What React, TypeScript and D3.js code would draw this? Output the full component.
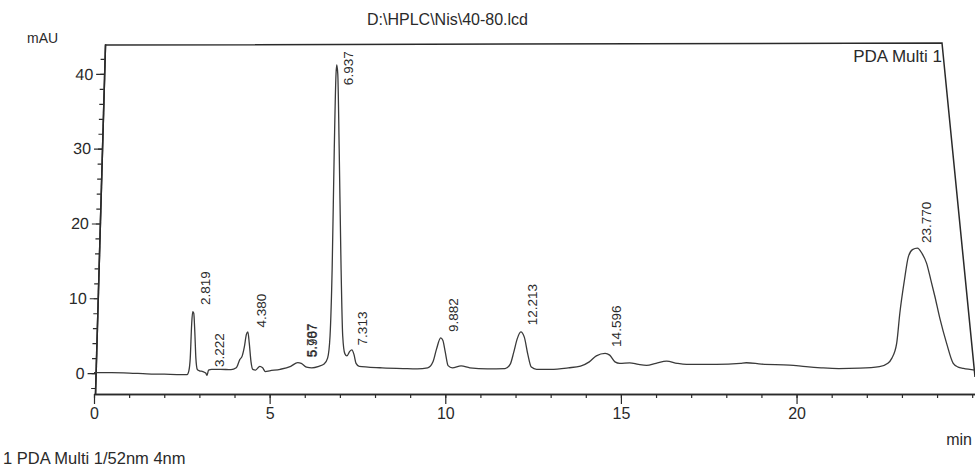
import { useEffect, useRef } from 'react'
import * as d3 from 'd3'

const W = 975
const H = 467
const FONT = '"Liberation Sans", Arial, sans-serif'

// trace (minutes / mAU)
const TIME = [
  0, 0.5, 1.0, 1.5, 2.0, 2.5, 2.65,
  2.70, 2.74, 2.78, 2.81, 2.84, 2.87, 2.90, 2.94, 3.0, 3.1, 3.18, 3.22, 3.26, 3.35, 3.6, 3.9,
  4.05, 4.15, 4.22, 4.28, 4.34, 4.38, 4.42, 4.47, 4.52, 4.6, 4.72, 4.8, 4.88, 5.0, 5.3, 5.6, 5.8, 5.9, 6.05, 6.2, 6.4, 6.55,
  6.65, 6.72, 6.78, 6.84, 6.89, 6.91, 6.94, 6.98, 7.03, 7.08, 7.14, 7.2, 7.28, 7.34, 7.4, 7.46, 7.55, 7.8, 8.2, 8.8, 9.2,
  9.5, 9.65, 9.75, 9.87, 9.93, 10.0, 10.08, 10.2, 10.45, 10.7, 11.2, 11.7,
  11.85, 11.95, 12.05, 12.15, 12.25, 12.35, 12.45, 12.6, 13.0, 13.5, 13.85,
  14.1, 14.3, 14.55, 14.68, 14.83, 14.97, 15.25, 15.5, 15.73, 16.0, 16.3, 16.6, 16.87, 17.72, 18.4, 18.57,
  19.0, 19.8, 20.27, 20.7, 21.2, 21.8, 22.36, 22.6, 22.71, 22.85, 22.94, 23.07, 23.18, 23.3, 23.44, 23.57, 23.70,
  23.82, 23.94, 24.08, 24.27, 24.46, 24.6, 24.75, 25.08,
]
const MAU = [
  0.05, 0.05, 0.0, -0.1, -0.15, -0.2, -0.2,
  0.3, 2.0, 6.5, 8.2, 8.0, 5.5, 2.0, 0.5, 0.3, 0.2, 0.0, -0.3, 0.4, 0.5, 0.5, 0.45,
  0.7, 1.8, 2.3, 3.5, 5.2, 5.5, 4.0, 1.5, 0.5, 0.4, 0.9, 0.7, 0.2, 0.3, 0.5, 0.9, 1.4, 1.3, 0.8, 0.7, 0.9, 1.2,
  2.0, 5.0, 14.0, 30.0, 40.0, 41.2, 40.0, 30.0, 15.0, 5.0, 2.6, 2.3, 2.9, 3.1, 2.5, 1.3, 0.9, 0.8, 0.7, 0.6, 0.55,
  0.7, 1.5, 3.2, 4.7, 4.4, 2.8, 1.0, 0.7, 0.95, 0.7, 0.55, 0.6,
  1.2, 2.8, 4.6, 5.5, 4.8, 2.5, 0.8, 0.5, 0.5, 0.7, 0.94,
  1.5, 2.3, 2.63, 2.4, 1.5, 1.3, 1.37, 1.15, 1.03, 1.3, 1.6, 1.3, 1.16, 1.16, 1.3, 1.38,
  1.2, 1.07, 0.85, 0.7, 0.6, 0.65, 0.85, 1.3, 1.96, 3.97, 8.0, 12.4, 15.5, 16.5, 16.7, 16.0, 14.7,
  12.5, 10.2, 7.3, 4.0, 1.3, 0.8, 0.63, 0.4,
]

const PEAK_LABELS = ['2.819', '3.222', '4.380', '5.787', '5.907', '6.937', '7.313', '9.882', '12.213', '14.596', '23.770']
const PEAK_AT = [2.85, 3.27, 4.46, 5.87, 5.92, 6.92, 7.34, 9.91, 12.18, 14.56, 23.39]
const PEAK_TOP = [9.1, 0.8, 6.1, 2.1, 2.1, 38.5, 3.7, 5.5, 6.4, 3.5, 17.4]

const X_MAJOR = [0, 5, 10, 15, 20]
const X_MINOR = [0, 1, 2, 3, 4, 5, 6, 7, 8, 9, 10, 11, 12, 13, 14, 15, 16, 17, 18, 19, 20, 21, 22, 23, 24, 25]
const Y_MAJOR = [0, 10, 20, 30, 40]
const Y_MINOR = [-2, 0, 2, 4, 6, 8, 10, 12, 14, 16, 18, 20, 22, 24, 26, 28, 30, 32, 34, 36, 38, 40, 42]

export default function App() {
  const svgRef = useRef<SVGSVGElement | null>(null)

  useEffect(() => {
    if (!svgRef.current) return
    const svg = d3.select(svgRef.current)
    svg.selectAll('*').remove()

    const x = d3.scaleLinear().domain([0, 25.08]).range([94, 975])
    const y = d3.scaleLinear().domain([-2.8, 44]).range([394, 44])
    const ink = '#2a2a2a'

    svg.append('rect').attr('width', W).attr('height', H).attr('fill', '#fff')

    // frame top + right edge (the scan leans on the right)
    svg.append('path')
      .attr('d', `M105,${y(44) + 1}L942,${y(44) - 1}L975,377`)
      .attr('fill', 'none')
      .attr('stroke', ink)
      .attr('stroke-width', 1.5)

    // y axis, slightly sheared like the scan
    const gy = svg.append('g')
      .attr('transform', 'translate(106.3,0) skewX(-1.64)')
      .attr('font-family', FONT)
    gy.append('g')
      .call(d3.axisLeft(y).tickValues(Y_MINOR).tickSize(4).tickSizeOuter(0).tickFormat(() => ''))
    gy.append('g')
      .call(d3.axisLeft(y).tickValues(Y_MAJOR).tickSize(8).tickSizeOuter(0).tickPadding(3).tickFormat(d3.format('d')))
    gy.selectAll('.domain').attr('stroke', ink).attr('stroke-width', 1.5)
    gy.selectAll('line').attr('stroke', ink).attr('stroke-width', 1.2)
    gy.selectAll('text').attr('font-size', 16).attr('fill', ink)

    // x axis
    const gx = svg.append('g')
      .attr('transform', `translate(0,${y(-2.8)})`)
      .attr('font-family', FONT)
    gx.append('g')
      .call(d3.axisBottom(x).tickValues(X_MINOR).tickSize(4).tickSizeOuter(0).tickFormat(() => ''))
    gx.append('g')
      .call(d3.axisBottom(x).tickValues(X_MAJOR).tickSize(10).tickSizeOuter(0).tickPadding(4).tickFormat(d3.format('d')))
    gx.selectAll('.domain').attr('stroke', ink).attr('stroke-width', 1.5)
    gx.selectAll('line').attr('stroke', ink).attr('stroke-width', 1.2)
    gx.selectAll('text').attr('font-size', 16).attr('fill', ink)

    // chromatogram
    const pts = TIME.map((t, i) => [t, MAU[i]] as [number, number])
    const line = d3.line<[number, number]>()
      .x(d => x(d[0]))
      .y(d => y(d[1]))
      .curve(d3.curveMonotoneX)
    svg.append('path')
      .datum(pts)
      .attr('d', line)
      .attr('fill', 'none')
      .attr('stroke', '#3a3a3a')
      .attr('stroke-width', 1.3)

    // retention time labels
    svg.append('g')
      .attr('font-family', FONT)
      .attr('font-size', 13.5)
      .attr('fill', ink)
      .selectAll('text')
      .data(PEAK_LABELS)
      .enter()
      .append('text')
      .attr('transform', (_, i) => `translate(${x(PEAK_AT[i]) + 15.5},${y(PEAK_TOP[i])}) rotate(-90)`)
      .text(d => d)

    const txt = (s: string, tx: number, ty: number, size: number, anchor = 'start') =>
      svg.append('text')
        .attr('x', tx).attr('y', ty)
        .attr('font-family', FONT)
        .attr('font-size', size)
        .attr('text-anchor', anchor)
        .attr('fill', ink)
        .text(s)

    txt('D:\\HPLC\\Nis\\40-80.lcd', 367, 25, 16)
    txt('mAU', 27, 43, 14)
    txt('PDA Multi 1', 942, 62, 17, 'end')
    txt('min', 972, 445, 16, 'end')
    txt('1 PDA Multi 1/52nm 4nm', 3, 464, 16.5)
  }, [])

  return (
    <svg
      ref={svgRef}
      width={W}
      height={H}
      style={{ position: 'absolute', left: 0, top: 0, display: 'block' }}
    />
  )
}
